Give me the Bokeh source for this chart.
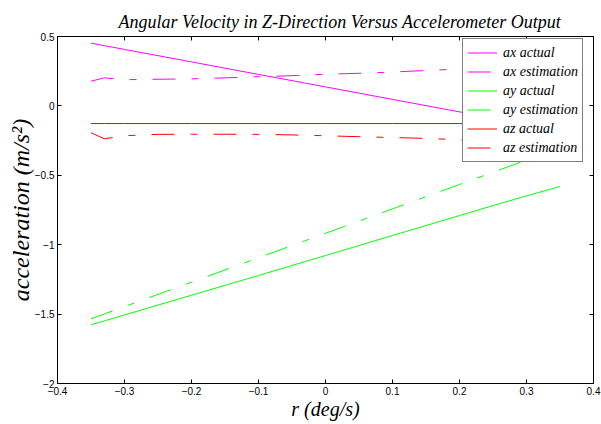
from bokeh.plotting import figure
from bokeh.models import Range1d, LinearAxis, FixedTicker, Legend, LegendItem
from bokeh.embed import file_html
from bokeh.resources import INLINE

# angular velocity r (deg/s)
r = [-0.35, -0.33, -0.30, -0.25, -0.20, -0.15, -0.10, -0.05, 0.00, 0.05, 0.10, 0.15, 0.20, 0.25, 0.30, 0.35]

ax_actual = [0.452, 0.434, 0.407, 0.362, 0.317, 0.272, 0.227, 0.182, 0.137, 0.092, 0.047, 0.002, -0.043, -0.088, -0.133, -0.178]
ax_est = [0.178, 0.202, 0.189, 0.192, 0.195, 0.202, 0.210, 0.218, 0.228, 0.235, 0.244, 0.255, 0.266, 0.278, 0.290, 0.300]
ay_actual = [-1.577, -1.549, -1.506, -1.435, -1.364, -1.293, -1.222, -1.150, -1.078, -1.006, -0.934, -0.862, -0.790, -0.718, -0.648, -0.581]
ay_est = [-1.534, -1.499, -1.446, -1.358, -1.270, -1.182, -1.094, -1.006, -0.918, -0.830, -0.742, -0.654, -0.566, -0.478, -0.390, -0.302]
az_actual = [-0.127] * 16
az_est = [-0.194, -0.237, -0.215, -0.205, -0.204, -0.204, -0.205, -0.209, -0.215, -0.222, -0.228, -0.234, -0.244, -0.250, -0.256, -0.262]

x_ticks = [-0.4, -0.3, -0.2, -0.1, 0, 0.1, 0.2, 0.3, 0.4]
y_ticks = [-2, -1.5, -1, -0.5, 0, 0.5]

series = [
    ("ax actual", ax_actual, "#ff00ff", "solid"),
    ("ax estimation", ax_est, "#ff00ff", "23 16 7 16"),
    ("ay actual", ay_actual, "#00ff00", "solid"),
    ("ay estimation", ay_est, "#00ff00", "23 16 7 16"),
    ("az actual", az_actual, "#ff0000", "solid"),
    ("az estimation", az_est, "#ff0000", "23 16 7 16"),
]

p = figure(width=601, height=424, output_backend="svg", toolbar_location=None,
           x_range=Range1d(-0.4, 0.4), y_range=Range1d(-2, 0.5),
           min_border_left=57, min_border_right=8, min_border_top=36, min_border_bottom=41,
           x_axis_label="r (deg/s)", y_axis_label="acceleration (m/s²)")

p.title.text = "Angular Velocity in Z-Direction Versus Accelerometer Output"
p.title.text_font = "Liberation Serif"
p.title.text_font_style = "italic"
p.title.text_font_size = "18px"
p.title.align = "left"
p.title.text_color = "#000000"
p.title.offset = 61

p.grid.visible = False
p.outline_line_color = "#000000"
p.outline_line_width = 1
p.background_fill_color = "white"
p.border_fill_color = "white"

for ax, ticks in ((p.xaxis[0], x_ticks), (p.yaxis[0], y_ticks)):
    ax.ticker = FixedTicker(ticks=ticks)
    ax.major_tick_in = 4
    ax.major_tick_out = 0
    ax.minor_tick_line_color = None
    ax.axis_line_color = "#000000"
    ax.major_tick_line_color = "#000000"
    ax.major_label_text_font = "Liberation Sans"
    ax.major_label_text_font_size = "10px"
    ax.major_label_text_color = "#000000"
    ax.axis_label_text_font = "Liberation Serif"
    ax.axis_label_text_font_style = "italic"
    ax.axis_label_text_color = "#000000"

p.xaxis.major_label_standoff = 3
p.xaxis.axis_label_text_font_size = "20px"
p.xaxis.axis_label_standoff = 0
p.yaxis.major_label_standoff = 3
p.yaxis.axis_label_text_font_size = "24px"
p.yaxis.axis_label_standoff = -2
p.yaxis.formatter.use_scientific = False

for loc, ticks in (("above", x_ticks), ("right", y_ticks)):
    a = LinearAxis(ticker=FixedTicker(ticks=ticks), major_tick_in=4, major_tick_out=0,
                   minor_tick_line_color=None, major_label_text_font_size="1px",
                   major_label_text_color=None, major_label_standoff=0,
                   axis_line_color="#000000")
    p.add_layout(a, loc)

items = []
for name, ys, color, dash in series:
    rr = p.line(r, ys, line_color=color, line_width=1, line_dash=dash)
    items.append(LegendItem(label=name, renderers=[rr]))

legend = Legend(items=items, location=(405, 221))
legend.label_text_font = "Liberation Serif"
legend.label_text_font_style = "italic"
legend.label_text_font_size = "14px"
legend.label_text_color = "#000000"
legend.glyph_width = 30
legend.glyph_height = 19
legend.label_height = 19
legend.label_standoff = 6
legend.spacing = 0
legend.padding = 4
legend.margin = 0
legend.border_line_color = "#000000"
legend.border_line_width = 1
legend.background_fill_color = "white"
legend.background_fill_alpha = 1
p.add_layout(legend)

open("out.html", "w").write(file_html(p, INLINE))
